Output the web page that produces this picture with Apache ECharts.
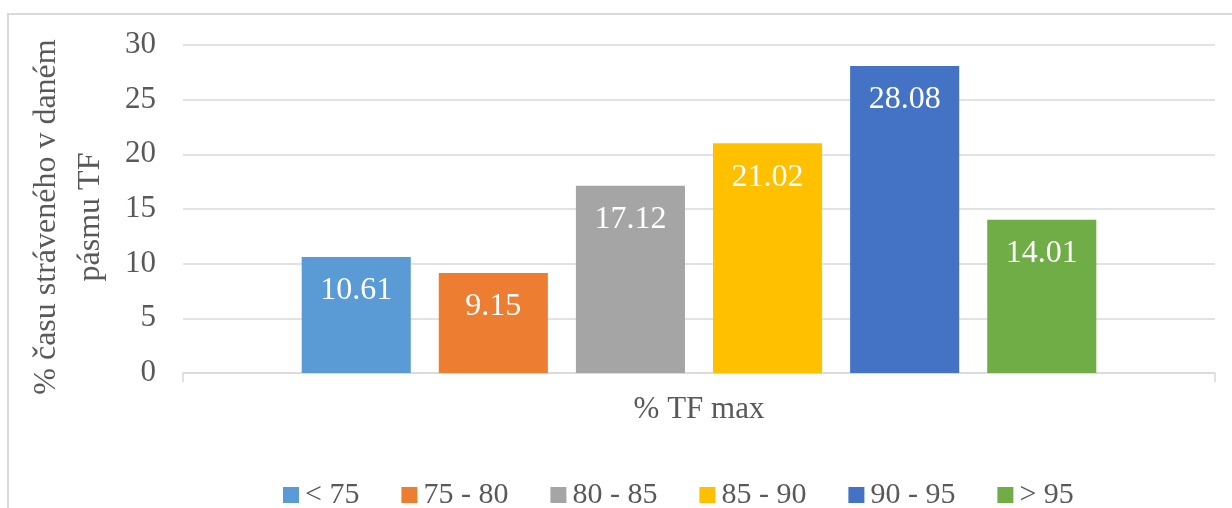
<!DOCTYPE html>
<html>
<head>
<meta charset="utf-8">
<title>% času stráveného v daném pásmu TF</title>
<script src="https://cdn.jsdelivr.net/npm/echarts@6/dist/echarts.min.js"></script>
<style>
  html, body { margin: 0; padding: 0; background: #ffffff; }
  #chart { width: 1232px; height: 508px; }
</style>
</head>
<body>
<div id="chart"></div>
<script>
// Single category with one bar per TF band
const categories = ['% TF max'];
const bandNames = ['< 75', '75 - 80', '80 - 85', '85 - 90', '90 - 95', '> 95'];
const bandValues = [10.61, 9.15, 17.12, 21.02, 28.08, 14.01];
const bandColors = ['#5B9BD5', '#ED7D31', '#A5A5A5', '#FFC000', '#4472C4', '#70AD47'];
const yTicks = { min: 0, max: 30, interval: 5 };

const FONT = '"Liberation Serif", "Times New Roman", serif';
const TEXT = '#595959';
const GRID_LINE = '#d9d9d9';

const chart = echarts.init(document.getElementById('chart'), null, { renderer: 'canvas' });

const series = bandNames.map((name, i) => ({
  name: name,
  type: 'bar',
  data: [bandValues[i]],
  itemStyle: { color: bandColors[i] },
  barGap: '25.7%',
  barCategoryGap: '23%',
  label: {
    show: true,
    position: 'insideTop',
    distance: 18,
    color: '#ffffff',
    fontFamily: FONT,
    fontSize: 32,
    formatter: p => p.value.toFixed(2)
  }
}));

chart.setOption({
  animation: false,
  backgroundColor: '#ffffff',
  textStyle: { fontFamily: FONT },
  graphic: [{
    type: 'rect',
    silent: true,
    shape: { x: 8, y: 14, width: 1400, height: 700 },
    style: { fill: 'none', stroke: '#d9d9d9', lineWidth: 2 }
  }],
  grid: { left: 183, right: 17, top: 45, bottom: 135, containLabel: false },
  legend: {
    left: 278,
    top: 475,
    icon: 'rect',
    itemWidth: 16,
    itemHeight: 16,
    itemGap: 42,
    textStyle: { color: TEXT, fontFamily: FONT, fontSize: 30, padding: [0, 0, 0, 1] },
    data: bandNames
  },
  xAxis: {
    type: 'category',
    data: categories,
    axisLine: { lineStyle: { color: GRID_LINE, width: 1.5 } },
    axisTick: { show: true, length: 9, lineStyle: { color: GRID_LINE, width: 1.5 } },
    axisLabel: { color: TEXT, fontFamily: FONT, fontSize: 31, margin: 21 }
  },
  yAxis: {
    type: 'value',
    min: yTicks.min,
    max: yTicks.max,
    interval: yTicks.interval,
    name: '% času stráveného v daném\npásmu TF',
    nameLocation: 'middle',
    nameRotate: 90,
    nameGap: 70,
    nameTextStyle: {
      color: TEXT, fontFamily: FONT, fontSize: 32, lineHeight: 44,
      padding: [0, 16, 0, 0]
    },
    axisLine: { show: false },
    axisTick: { show: false },
    axisLabel: { color: TEXT, fontFamily: FONT, fontSize: 31, margin: 27 },
    splitLine: { lineStyle: { color: GRID_LINE, width: 1.5 } }
  },
  series: series
});
</script>
</body>
</html>
